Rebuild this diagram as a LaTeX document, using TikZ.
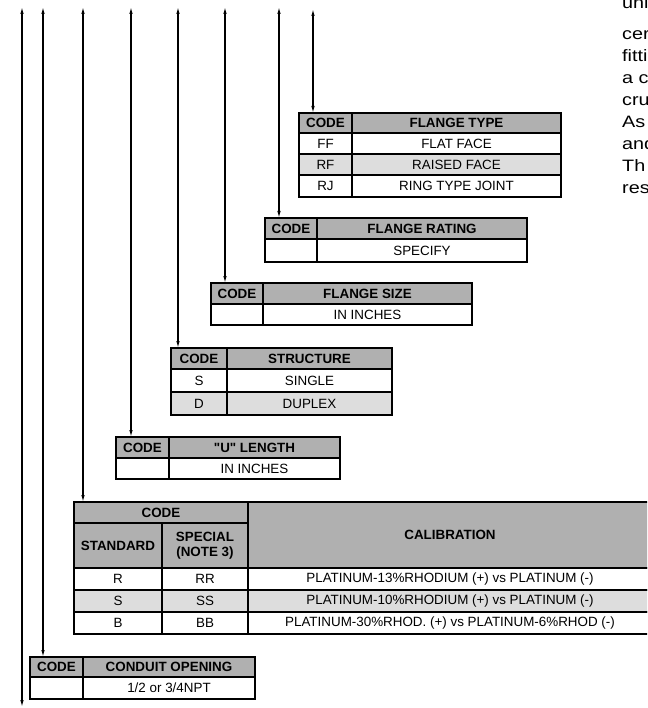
\documentclass[tikz,border=0pt]{standalone}
\usepackage{fontspec}
\setmainfont{Liberation Sans}
\newfontfamily\noteFamily[FakeStretch=1.2]{Liberation Sans}
\usetikzlibrary{arrows.meta}
\definecolor{headGray}{RGB}{176,176,176}
\definecolor{rowGray}{RGB}{221,221,221}
\newcommand{\tabFont}{\fontsize{13.4}{15}\selectfont}
\newcommand{\noteFont}{\noteFamily\fontsize{16.5}{20}\selectfont}
\newcommand{\leadTop}{7}

\begin{document}
\begin{tikzpicture}[x=1pt, y=-1pt, >={Latex[length=7pt,width=3.5pt]},
  cell/.style={draw, line width=1.3pt, inner sep=0pt, outer sep=0pt, anchor=north west, font=\tabFont, align=center},
  head/.style={cell, fill=headGray, font=\tabFont\bfseries},
  shade/.style={cell, fill=rowGray},
  lead/.style={<->, line width=1.1pt}]
\useasboundingbox (0,0) rectangle (647,708);
\clip (0,0) rectangle (647,708);

% flange type
\node[head, minimum width=53, minimum height=20] (typeCode) at (299,113) {CODE};
\node[head, minimum width=209, minimum height=20] (typeHead) at (352,113) {FLANGE TYPE};
\node[cell, minimum width=53, minimum height=21] (typeFF) at (299,133) {FF};
\node[cell, minimum width=209, minimum height=21] (typeFFt) at (352,133) {FLAT FACE};
\node[shade, minimum width=53, minimum height=21] (typeRF) at (299,154) {RF};
\node[shade, minimum width=209, minimum height=21] (typeRFt) at (352,154) {RAISED FACE};
\node[cell, minimum width=53, minimum height=22] (typeRJ) at (299,175) {RJ};
\node[cell, minimum width=209, minimum height=22] (typeRJt) at (352,175) {RING TYPE JOINT};

% flange rating
\node[head, minimum width=52, minimum height=21] (ratCode) at (265,218) {CODE};
\node[head, minimum width=210, minimum height=21] (ratHead) at (317,218) {FLANGE RATING};
\node[cell, minimum width=52, minimum height=23] (ratVal) at (265,239) {};
\node[cell, minimum width=210, minimum height=23] (ratValt) at (317,239) {SPECIFY};

% flange size
\node[head, minimum width=52, minimum height=21] (sizeCode) at (211,283) {CODE};
\node[head, minimum width=209, minimum height=21] (sizeHead) at (263,283) {FLANGE SIZE};
\node[cell, minimum width=52, minimum height=21] (sizeVal) at (211,304) {};
\node[cell, minimum width=209, minimum height=21] (sizeValt) at (263,304) {IN INCHES};

% structure
\node[head, minimum width=56, minimum height=21] (strCode) at (171,348) {CODE};
\node[head, minimum width=165, minimum height=21] (strHead) at (227,348) {STRUCTURE};
\node[cell, minimum width=56, minimum height=23] (strS) at (171,369) {S};
\node[cell, minimum width=165, minimum height=23] (strSt) at (227,369) {SINGLE};
\node[shade, minimum width=56, minimum height=23] (strD) at (171,392) {D};
\node[shade, minimum width=165, minimum height=23] (strDt) at (227,392) {DUPLEX};

% u length
\node[head, minimum width=53, minimum height=21] (lenCode) at (116,437) {CODE};
\node[head, minimum width=171, minimum height=21] (lenHead) at (169,437) {\textquotedbl U\textquotedbl{} LENGTH};
\node[cell, minimum width=53, minimum height=21] (lenVal) at (116,458) {};
\node[cell, minimum width=171, minimum height=21] (lenValt) at (169,458) {IN INCHES};

% calibration
\node[head, minimum width=174, minimum height=21] (calCode) at (74,502) {CODE};
\node[head, minimum width=88, minimum height=45] (calStd) at (74,523) {STANDARD};
\node[head, minimum width=86, minimum height=45] (calSpc) at (162,523) {SPECIAL\\(NOTE 3)};
\node[head, minimum width=404, minimum height=66] (calHead) at (248,502) {CALIBRATION};
\node[cell, minimum width=88, minimum height=22] (calR) at (74,568) {R};
\node[cell, minimum width=86, minimum height=22] (calRR) at (162,568) {RR};
\node[cell, minimum width=404, minimum height=22] (calRt) at (248,568) {PLATINUM-13\%RHODIUM (+) vs PLATINUM (-)};
\node[shade, minimum width=88, minimum height=22] (calS) at (74,590) {S};
\node[shade, minimum width=86, minimum height=22] (calSS) at (162,590) {SS};
\node[shade, minimum width=404, minimum height=22] (calSt) at (248,590) {PLATINUM-10\%RHODIUM (+) vs PLATINUM (-)};
\node[cell, minimum width=88, minimum height=22] (calB) at (74,612) {B};
\node[cell, minimum width=86, minimum height=22] (calBB) at (162,612) {BB};
\node[cell, minimum width=404, minimum height=22] (calBt) at (248,612) {PLATINUM-30\%RHOD. (+) vs PLATINUM-6\%RHOD (-)};

% conduit opening
\node[head, minimum width=53, minimum height=20] (condCode) at (30,657) {CODE};
\node[head, minimum width=172, minimum height=20] (condHead) at (83,657) {CONDUIT OPENING};
\node[cell, minimum width=53, minimum height=22] (condVal) at (30,677) {};
\node[cell, minimum width=172, minimum height=22] (condValt) at (83,677) {1/2 or 3/4NPT};

% leaders
\coordinate (lead1) at (22,\leadTop);
\coordinate (lead2) at (43,\leadTop);
\coordinate (lead3) at (83,\leadTop);
\coordinate (lead4) at (131,\leadTop);
\coordinate (lead5) at (178,\leadTop);
\coordinate (lead6) at (225,\leadTop);
\coordinate (lead7) at (279,\leadTop);
\coordinate (lead8) at (313,9);
\coordinate (leadEnd) at (22,707);
\draw[lead] (lead1) -- (leadEnd);
\draw[lead] (lead2) -- (lead2 |- condCode.north);
\draw[lead] (lead3) -- (lead3 |- calCode.north);
\draw[lead] (lead4) -- (lead4 |- lenCode.north);
\draw[lead] (lead5) -- (lead5 |- strCode.north);
\draw[lead] (lead6) -- (lead6 |- sizeCode.north);
\draw[lead] (lead7) -- (lead7 |- ratCode.north);
\draw[lead] (lead8) -- (lead8 |- typeCode.north);

% cut off note text
\node[anchor=base west, inner sep=0pt, font=\noteFont] (note1) at (622,9) {uni};
\node[anchor=base west, inner sep=0pt, font=\noteFont] (note2) at (622,40) {cer};
\node[anchor=base west, inner sep=0pt, font=\noteFont] (note3) at (622,62) {fitti};
\node[anchor=base west, inner sep=0pt, font=\noteFont] (note4) at (622,84) {a c};
\node[anchor=base west, inner sep=0pt, font=\noteFont] (note5) at (622,106) {cru};
\node[anchor=base west, inner sep=0pt, font=\noteFont] (note6) at (622,128) {As};
\node[anchor=base west, inner sep=0pt, font=\noteFont] (note7) at (622,150) {and};
\node[anchor=base west, inner sep=0pt, font=\noteFont] (note8) at (622,172) {Th};
\node[anchor=base west, inner sep=0pt, font=\noteFont] (note9) at (622,194) {res};
\end{tikzpicture}
\end{document}
